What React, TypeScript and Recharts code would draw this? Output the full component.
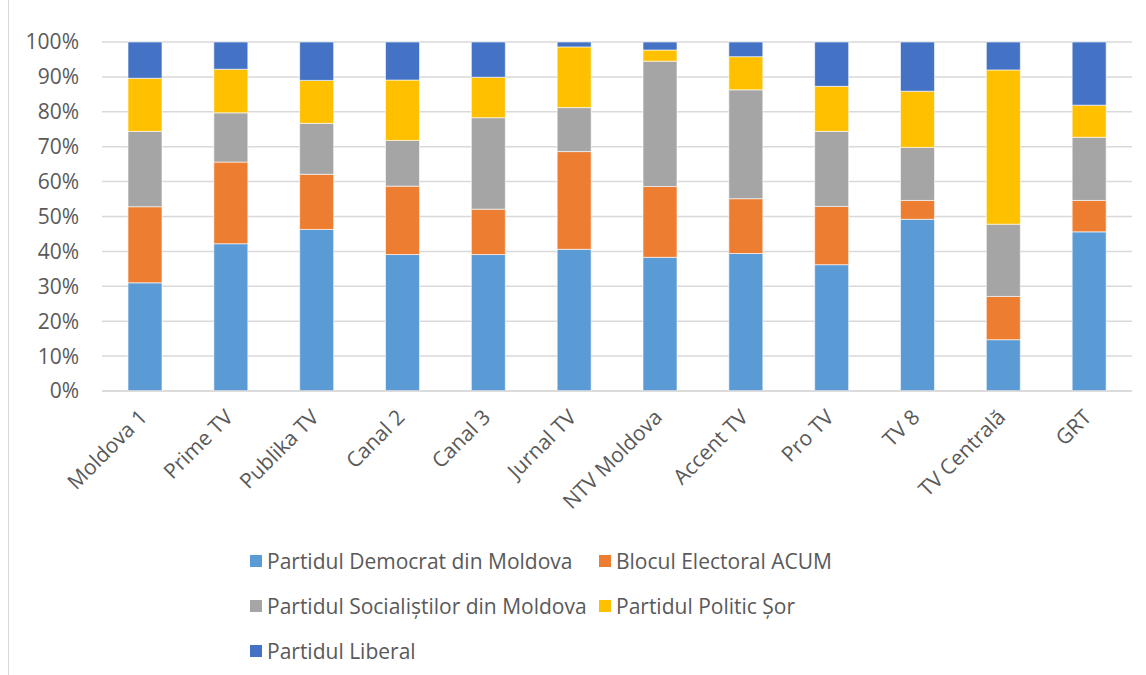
import React from 'react'
import { BarChart, Bar, XAxis, YAxis, CartesianGrid, Legend } from 'recharts'

const channels = [
  'Moldova 1', 'Prime TV', 'Publika TV', 'Canal 2', 'Canal 3', 'Jurnal TV',
  'NTV Moldova', 'Accent TV', 'Pro TV', 'TV 8', 'TV Centrală', 'GRT',
]

// share of coverage per party, in percent
const pdm = [31.0, 42.2, 46.3, 39.1, 39.1, 40.6, 38.3, 39.4, 36.2, 49.2, 14.7, 45.6]
const acum = [21.8, 23.4, 15.8, 19.6, 13.0, 28.0, 20.3, 15.7, 16.7, 5.4, 12.4, 9.0]
const psrm = [21.6, 14.1, 14.6, 13.1, 26.2, 12.6, 35.9, 31.2, 21.5, 15.2, 20.7, 18.1]
const sor = [15.2, 12.5, 12.3, 17.3, 11.6, 17.4, 3.2, 9.5, 12.9, 16.1, 44.2, 9.2]
const pl = [10.4, 7.8, 11.0, 10.9, 10.1, 1.4, 2.3, 4.2, 12.7, 14.1, 8.0, 18.1]

const yTicks = [0, 0.1, 0.2, 0.3, 0.4, 0.5, 0.6, 0.7, 0.8, 0.9, 1]

const series = [
  { key: 'pdm', name: 'Partidul Democrat din Moldova', color: '#5B9BD5' },
  { key: 'acum', name: 'Blocul Electoral ACUM', color: '#ED7D31' },
  { key: 'psrm', name: 'Partidul Socialiștilor din Moldova', color: '#A5A5A5' },
  { key: 'sor', name: 'Partidul Politic Șor', color: '#FFC000' },
  { key: 'pl', name: 'Partidul Liberal', color: '#4472C4' },
]

const data = channels.map((name, i) => ({
  name,
  pdm: pdm[i],
  acum: acum[i],
  psrm: psrm[i],
  sor: sor[i],
  pl: pl[i],
}))

const FONT = '"Open Sans", sans-serif'
const TEXT = '#595959'

// legend keeps the series order (recharts sorts the payload by name)
function LegendBox() {
  return (
    <div style={{ position: 'relative', width: 1146, height: 140, fontFamily: FONT, fontSize: 21, color: TEXT }}>
      {series.map((s, i) => {
        const col = i % 2
        const row = Math.floor(i / 2)
        return (
          <div
            key={s.key}
            style={{
              position: 'absolute',
              left: col === 0 ? 250 : 599,
              top: 21 + row * 45 - 15,
              height: 30,
              display: 'flex',
              alignItems: 'center',
              whiteSpace: 'nowrap',
            }}
          >
            <span style={{ display: 'inline-block', width: 12, height: 12, background: s.color, marginRight: 5 }} />
            {s.name}
          </div>
        )
      })}
    </div>
  )
}

export default function App() {
  return (
    <div style={{ position: 'absolute', left: 0, top: 0, width: 1146, height: 675, background: '#fff' }}>
      <div style={{ position: 'absolute', left: 8, top: 0, width: 1, height: 675, background: '#d9d9d9' }} />
      <BarChart
        width={1146}
        height={675}
        data={data}
        stackOffset="expand"
        barSize={34}
        margin={{ top: 42, right: 14, left: 0, bottom: 0 }}
      >
        <CartesianGrid vertical={false} stroke="#d9d9d9" strokeWidth={1.5} />
        <XAxis
          dataKey="name"
          height={284}
          interval={0}
          angle={-45}
          textAnchor="end"
          tickLine={false}
          tickSize={0}
          tickMargin={17}
          axisLine={{ stroke: '#d9d9d9', strokeWidth: 1.5 }}
          tick={{ fill: TEXT, fontSize: 21, fontFamily: FONT, dx: -7 }}
        />
        <YAxis
          width={102}
          domain={[0, 1]}
          ticks={yTicks}
          tickFormatter={(v: number) => `${Math.round(v * 100)}%`}
          axisLine={false}
          tickLine={false}
          tickSize={0}
          tickMargin={23}
          tick={{ fill: TEXT, fontSize: 21, fontFamily: FONT }}
        />
        <Legend
          layout="horizontal"
          verticalAlign="middle"
          align="center"
          wrapperStyle={{ left: 0, top: 540, width: 1146 }}
          content={<LegendBox />}
        />
        {series.map((s) => (
          <Bar
            key={s.key}
            dataKey={s.key}
            name={s.name}
            stackId="a"
            fill={s.color}
            stroke="#ffffff"
            strokeWidth={0.6}
            isAnimationActive={false}
          />
        ))}
      </BarChart>
    </div>
  )
}
